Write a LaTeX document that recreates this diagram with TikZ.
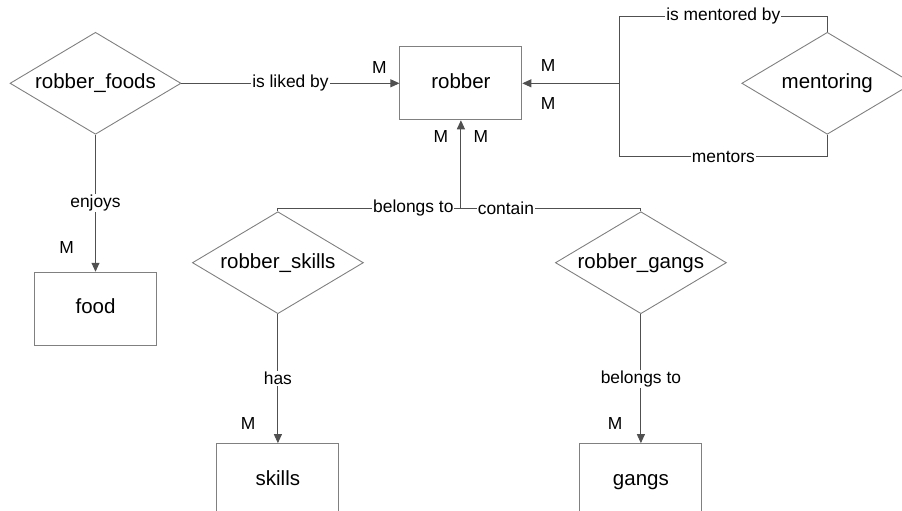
\documentclass[tikz,border=0pt]{standalone}
\usepackage{fontspec}
\setmainfont{Liberation Sans}
\usetikzlibrary{arrows.meta,positioning,shapes.geometric}
\definecolor{shapegray}{RGB}{128,128,128}
\definecolor{linegray}{RGB}{80,80,80}

\begin{document}
\begin{tikzpicture}[
      entity/.style={draw=shapegray,line width=0.9pt,minimum width=122pt,minimum height=73pt,inner sep=0pt,text height=14pt,text depth=4pt,font=\fontsize{20.5}{24}\selectfont},
      relation/.style={draw=shapegray,line width=0.9pt,diamond,aspect=1.68,minimum width=171pt,minimum height=102pt,inner sep=1pt,font=\fontsize{20.5}{24}\selectfont},
      link/.style={draw=linegray,line width=0.9pt},
      arrow/.style={link,-{Triangle[length=9pt,width=8pt]}},
      lbl/.style={fill=white,inner sep=1pt,font=\fontsize{17.4}{20}\selectfont},
      card/.style={inner sep=0pt,font=\fontsize{17.4}{20}\selectfont}
    ]
      \useasboundingbox (0,0) rectangle (902pt,-511pt);

      \node[relation] (rfoods) at (95.5pt,-83.3pt) {robber\_foods};
      \node[entity,right=218pt of rfoods] (robber) {robber};
      \node[relation,right=219pt of robber] (mentoring) {mentoring};
      \node[entity,below=137pt of rfoods] (food) {food};
      \node[relation,below=91pt of robber,xshift=-183pt] (rskills) {robber\_skills};
      \node[relation,below=91pt of robber,xshift=180pt] (rgangs) {robber\_gangs};
      \node[entity,below=129pt of rskills] (skills) {skills};
      \node[entity,below=129pt of rgangs] (gangs) {gangs};

      \coordinate[right=97pt of robber.east] (mjoin);
      \coordinate (mtop) at ([yshift=67pt]mjoin);
      \coordinate (mbot) at ([yshift=-73.4pt]mjoin);
      \coordinate[below=88pt of robber.south] (bjoin);

      \draw[arrow] (rfoods.east) -- node[lbl]{is liked by} (robber.west);
      \draw[arrow] (rfoods.south) -- node[lbl]{enjoys} (food.north);
      \draw[arrow] (mjoin) -- (robber.east);
      \draw[link] (mentoring.north) |- node[lbl,pos=0.75]{is mentored by} (mtop) -- (mjoin);
      \draw[link] (mentoring.south) |- node[lbl,pos=0.75]{mentors} (mbot) -- (mjoin);
      \draw[arrow] (bjoin) -- (robber.south);
      \draw[link] (rskills.north) |- node[lbl,pos=0.87]{belongs to} (bjoin);
      \draw[link] (rgangs.north) |- node[lbl,pos=0.875]{contain} (bjoin);
      \draw[arrow] (rskills.south) -- node[lbl]{has} (skills.north);
      \draw[arrow] (rgangs.south) -- node[lbl]{belongs to} (gangs.north);

      % cardinalities
      \node[card] (mliked) at ([shift={(-20pt,15.6pt)}]robber.west) {M};
      \node[card] (mmentor1) at ([shift={(25.7pt,18pt)}]robber.east) {M};
      \node[card] (mmentor2) at ([shift={(25.7pt,-20pt)}]robber.east) {M};
      \node[card] (mskill) at ([shift={(-20pt,-16pt)}]robber.south) {M};
      \node[card] (mgang) at ([shift={(20pt,-16.5pt)}]robber.south) {M};
      \node[card] (mfood) at ([shift={(-29pt,24.3pt)}]food.north) {M};
      \node[card] (mskills) at ([shift={(-29.7pt,20pt)}]skills.north) {M};
      \node[card] (mgangs) at ([shift={(-25.7pt,20pt)}]gangs.north) {M};
    \end{tikzpicture}
\end{document}
